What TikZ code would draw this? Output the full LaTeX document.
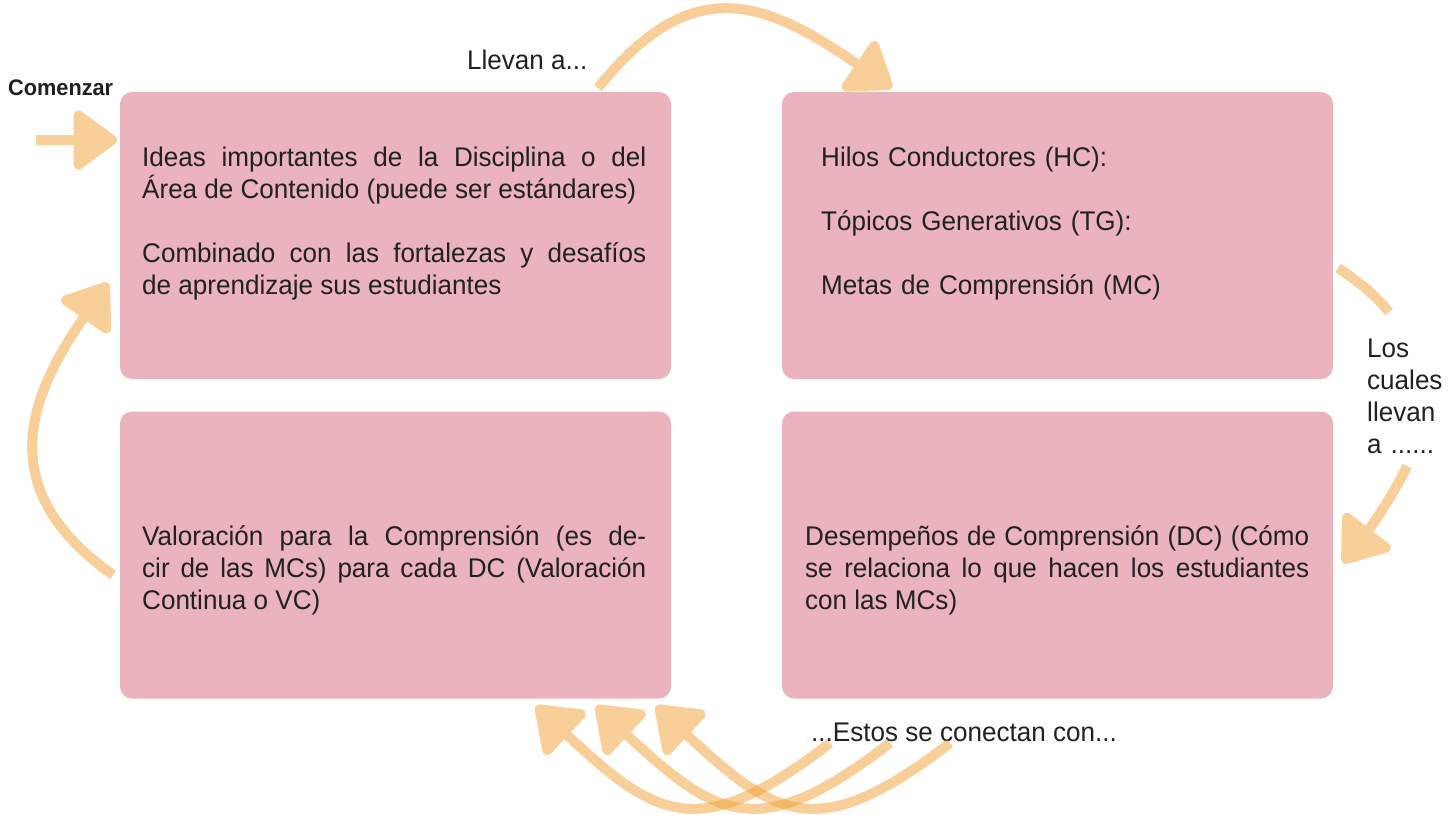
\documentclass[tikz,border=0pt]{standalone}
\usepackage{fontspec}
\setmainfont{Liberation Sans}[FakeStretch=0.965]
\usetikzlibrary{arrows.meta}
\definecolor{cardpink}{HTML}{EAB3BD}
\definecolor{arcorange}{RGB}{241,160,50}
\definecolor{inktext}{HTML}{212121}
\newcommand{\bodyfont}{\fontsize{27}{32}\selectfont\hyphenpenalty=10000 }

\begin{document}
\begin{tikzpicture}[x=1pt,y=-1pt,
  card/.style={rectangle,rounded corners=12pt,fill=cardpink,minimum width=551pt,minimum height=287pt,inner sep=0pt},
  cardtext/.style={anchor=base west,inner sep=0pt,text width=504pt,align=justify,text=inktext,font=\bodyfont},
  note/.style={anchor=base west,inner sep=0pt,text=inktext,font=\bodyfont},
  flow/.style={draw=arcorange,line width=10pt,-{Triangle[length=47pt,width=66pt,round]}},
  fade/.style={transparency group,opacity=0.5}]
\useasboundingbox (0,0) rectangle (1453,814);
% cards
\node[card] (ideas) at (395.5,235.5) {};
\node[card] (hilos) at (1057.5,235.5) {};
\node[card] (valoracion) at (395.5,555) {};
\node[card] (desempenos) at (1057.5,555) {};
\node[cardtext] (ideas-txt) at (142,166) {Ideas importantes de la Disciplina o del\linebreak Área de Contenido (puede ser estándares)\par\vspace{32pt}Combinado con las fortalezas y desafíos\linebreak de aprendizaje sus estudiantes};
\node[note,text width=480pt,align=left] (hilos-txt) at (821,166) {Hilos Conductores (HC):\par\vspace{32pt}Tópicos Generativos (TG):\par\vspace{32pt}Metas de Comprensión (MC)};
\node[cardtext] (valoracion-txt) at (142,545) {Valoración para la Comprensión (es de-\linebreak cir de las MCs) para cada DC (Valoración\linebreak Continua o VC)};
\node[cardtext] (desempenos-txt) at (805,545) {Desempeños de Comprensión (DC) (Cómo\linebreak se relaciona lo que hacen los estudiantes\linebreak con las MCs)};
% labels
\node[note,font=\fontsize{22.5}{26}\selectfont\bfseries] (comenzar) at (8,95) {Comenzar};
\node[note] (llevan) at (467,69) {Llevan a...};
\node[note,text width=85pt,align=left] (cuales) at (1367,357) {Los\\cuales\\llevan\\a ......};
\node[note] (estos) at (811,741) {...Estos se conectan con...};
% arrows
\coordinate (start-tail) at (36,140);
\coordinate (ideas-start) at (117,140);
\coordinate (llevan-out) at (598,88);
\coordinate (hilos-in) at (892,88);
\coordinate (hilos-out) at (1338,268);
\coordinate (cuales-top) at (1389,312);
\coordinate (cuales-bottom) at (1407,466);
\coordinate (desempenos-in) at (1343,563);
\coordinate (valoracion-out) at (113,575);
\coordinate (ideas-in) at (108,283);
\begin{scope}[fade]
\draw[flow] (start-tail) -- (ideas-start);
\end{scope}
\begin{scope}[fade]
\draw[flow] (llevan-out) .. controls (693,-31) and (767,2) .. (hilos-in);
\end{scope}
\begin{scope}[fade]
\draw[flow,-] (hilos-out) .. controls (1358,281) and (1375,295) .. (cuales-top);
\draw[flow] (cuales-bottom) .. controls (1393,496) and (1370,528) .. (desempenos-in);
\end{scope}
\begin{scope}[fade]
\draw[flow] (valoracion-out) .. controls (-4,492) and (24,403) .. (ideas-in);
\end{scope}
\foreach \i/\dx in {1/0,2/60,3/120} {
  \coordinate (estos-\i) at (830+\dx,743);
  \coordinate (valoracion-in-\i) at (536+\dx,706);
  \begin{scope}[fade]
  \draw[flow] (estos-\i) .. controls (699+\dx,844) and (657+\dx,819) .. (valoracion-in-\i);
  \end{scope}
}
\end{tikzpicture}
\end{document}
